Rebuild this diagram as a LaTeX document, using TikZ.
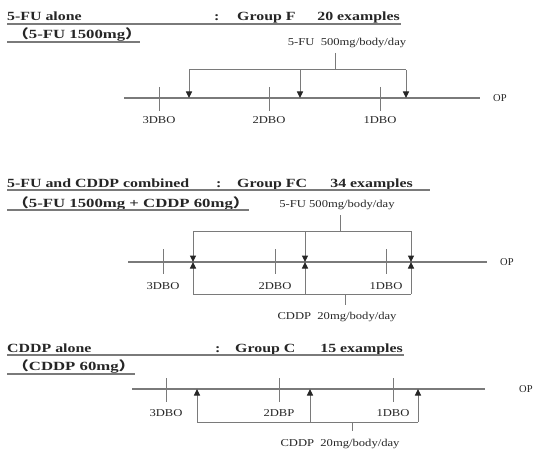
\documentclass[tikz,border=0pt]{standalone}
\usepackage{fontspec}
\setmainfont{Liberation Serif}
\newfontfamily\cjk{Noto Sans CJK JP}
\usetikzlibrary{arrows.meta}
\definecolor{ln}{gray}{0.48}
\definecolor{tx}{gray}{0.15}
\newcommand\wideB[1]{\scalebox{1.27}[1]{#1}}
\newcommand\wideS[1]{\scalebox{1.34}[1]{#1}}
\newcommand\wideL[1]{\scalebox{1.2}[1]{#1}}
\begin{document}
\begin{tikzpicture}[x=1pt,y=-1pt,
  ttl/.style={anchor=base west, inner sep=0pt, text=tx, font=\bfseries\fontsize{12.5}{13}\selectfont},
  ttr/.style={ttl, anchor=base east},
  lbl/.style={inner sep=0pt, text=tx, font=\fontsize{10.5}{11}\selectfont},
  uline/.style={draw=ln, line width=1.1pt},
  axis/.style={draw=ln, line width=1.4pt},
  tick/.style={draw=ln, line width=0.9pt},
  brk/.style={draw=ln, line width=1pt},
  arr/.style={draw=ln, line width=1pt, -{Triangle[width=6pt,length=6.5pt,color=tx,fill=tx]}}
]
\useasboundingbox (0,0) rectangle (533,452);

% ================= Section 1 =================
\node[ttl] (t1a) at (7,21) {\wideB{5-FU alone}};
\node[ttl] (t1b) at (214,21) {\wideB{:}};
\node[ttl] (t1c) at (237,21) {\wideB{Group F}};
\node[ttr] (t1d) at (400,21) {\wideB{20 examples}};
\coordinate (u1l) at (7,24); \coordinate (u1r) at (401,24);
\draw[uline] (u1l) -- (u1r);
\node[ttl] (s1) at (12,39) {\wideS{{\cjk （}5-FU 1500mg{\cjk ）}}};
\coordinate (v1l) at (7,42); \coordinate (v1r) at (140,42);
\draw[uline] (v1l) -- (v1r);

\node[lbl] (d1) at (347,43) {\wideL{5-FU\ \ 500mg/body/day}};
\coordinate (st1a) at (335,53); \coordinate (st1b) at (335,70);
\draw[brk] (st1a) -- (st1b);
\coordinate (b1a) at (189,70); \coordinate (b1b) at (300,70); \coordinate (b1c) at (406,70);
\draw[brk] (b1a) -- (b1c);
\coordinate (L1) at (124,98); \coordinate (R1) at (480,98);
\draw[axis] (L1) -- (R1);
\node[lbl, anchor=west] (op1) at (493,98) {OP};
\coordinate (m1a) at (189,98); \coordinate (m1b) at (300,98); \coordinate (m1c) at (406,98);
\draw[arr] (b1a) -- (m1a);
\draw[arr] (b1b) -- (m1b);
\draw[arr] (b1c) -- (m1c);
\foreach \x/\n in {159/3,269/2,380/1}{
  \coordinate (k1t\n) at (\x,87); \coordinate (k1b\n) at (\x,111);
  \draw[tick] (k1t\n) -- (k1b\n);
}
\node[lbl] (l13) at (159,120) {\wideL{3DBO}};
\node[lbl] (l12) at (269,120) {\wideL{2DBO}};
\node[lbl] (l11) at (380,120) {\wideL{1DBO}};

% ================= Section 2 =================
\node[ttl] (t2a) at (7,187) {\wideB{5-FU and CDDP combined}};
\node[ttl] (t2b) at (216,187) {\wideB{:}};
\node[ttl] (t2c) at (237,187) {\wideB{Group FC}};
\node[ttr] (t2d) at (413,187) {\wideB{34 examples}};
\coordinate (u2l) at (7,190); \coordinate (u2r) at (430,190);
\draw[uline] (u2l) -- (u2r);
\node[ttl] (s2) at (12,207) {\wideS{{\cjk （}5-FU 1500mg + CDDP 60mg{\cjk ）}}};
\coordinate (v2l) at (7,210); \coordinate (v2r) at (249,210);
\draw[uline] (v2l) -- (v2r);

\node[lbl] (d2) at (337,205) {\wideL{5-FU 500mg/body/day}};
\coordinate (st2a) at (340,215); \coordinate (st2b) at (340,231);
\draw[brk] (st2a) -- (st2b);
\coordinate (b2a) at (193,231); \coordinate (b2b) at (305,231); \coordinate (b2c) at (411,231);
\draw[brk] (b2a) -- (b2c);
\coordinate (c2a) at (193,294); \coordinate (c2b) at (305,294); \coordinate (c2c) at (411,294);
\draw[brk] (c2a) -- (c2c);
\coordinate (L2) at (128,262); \coordinate (R2) at (487,262);
\draw[axis] (L2) -- (R2);
\node[lbl, anchor=west] (op2) at (500,262) {OP};
\coordinate (m2a) at (193,262); \coordinate (m2b) at (305,262); \coordinate (m2c) at (411,262);
\draw[arr] (b2a) -- (m2a);
\draw[arr] (b2b) -- (m2b);
\draw[arr] (b2c) -- (m2c);
\draw[arr] (c2a) -- (m2a);
\draw[arr] (c2b) -- (m2b);
\draw[arr] (c2c) -- (m2c);
\foreach \x/\n in {163/3,275/2,386/1}{
  \coordinate (k2t\n) at (\x,249); \coordinate (k2b\n) at (\x,274);
  \draw[tick] (k2t\n) -- (k2b\n);
}
\node[lbl] (l23) at (163,286) {\wideL{3DBO}};
\node[lbl] (l22) at (275,286) {\wideL{2DBO}};
\node[lbl] (l21) at (386,286) {\wideL{1DBO}};
\coordinate (st2c) at (345,294); \coordinate (st2d) at (345,305);
\draw[brk] (st2c) -- (st2d);
\node[lbl] (e2) at (337,317) {\wideL{CDDP\ \ 20mg/body/day}};

% ================= Section 3 =================
\node[ttl] (t3a) at (7,352) {\wideB{CDDP alone}};
\node[ttl] (t3b) at (215,352) {\wideB{:}};
\node[ttl] (t3c) at (235,352) {\wideB{Group C}};
\node[ttr] (t3d) at (403,352) {\wideB{15 examples}};
\coordinate (u3l) at (7,355); \coordinate (u3r) at (404,355);
\draw[uline] (u3l) -- (u3r);
\node[ttl] (s3) at (12,370) {\wideS{{\cjk （}CDDP 60mg{\cjk ）}}};
\coordinate (v3l) at (7,374); \coordinate (v3r) at (135,374);
\draw[uline] (v3l) -- (v3r);

\coordinate (L3) at (132,389); \coordinate (R3) at (485,389);
\draw[axis] (L3) -- (R3);
\node[lbl, anchor=west] (op3) at (519,389) {OP};
\coordinate (c3a) at (197,422); \coordinate (c3b) at (310,422); \coordinate (c3c) at (418,422);
\draw[brk] (c3a) -- (c3c);
\coordinate (m3a) at (197,389); \coordinate (m3b) at (310,389); \coordinate (m3c) at (418,389);
\draw[arr] (c3a) -- (m3a);
\draw[arr] (c3b) -- (m3b);
\draw[arr] (c3c) -- (m3c);
\foreach \x/\n in {166/3,279/2,393/1}{
  \coordinate (k3t\n) at (\x,378); \coordinate (k3b\n) at (\x,402);
  \draw[tick] (k3t\n) -- (k3b\n);
}
\node[lbl] (l33) at (166,413) {\wideL{3DBO}};
\node[lbl] (l32) at (279,413) {\wideL{2DBP}};
\node[lbl] (l31) at (393,413) {\wideL{1DBO}};
\coordinate (st3a) at (352,422); \coordinate (st3b) at (352,431);
\draw[brk] (st3a) -- (st3b);
\node[lbl] (e3) at (340,444) {\wideL{CDDP\ \ 20mg/body/day}};
\end{tikzpicture}
\end{document}
